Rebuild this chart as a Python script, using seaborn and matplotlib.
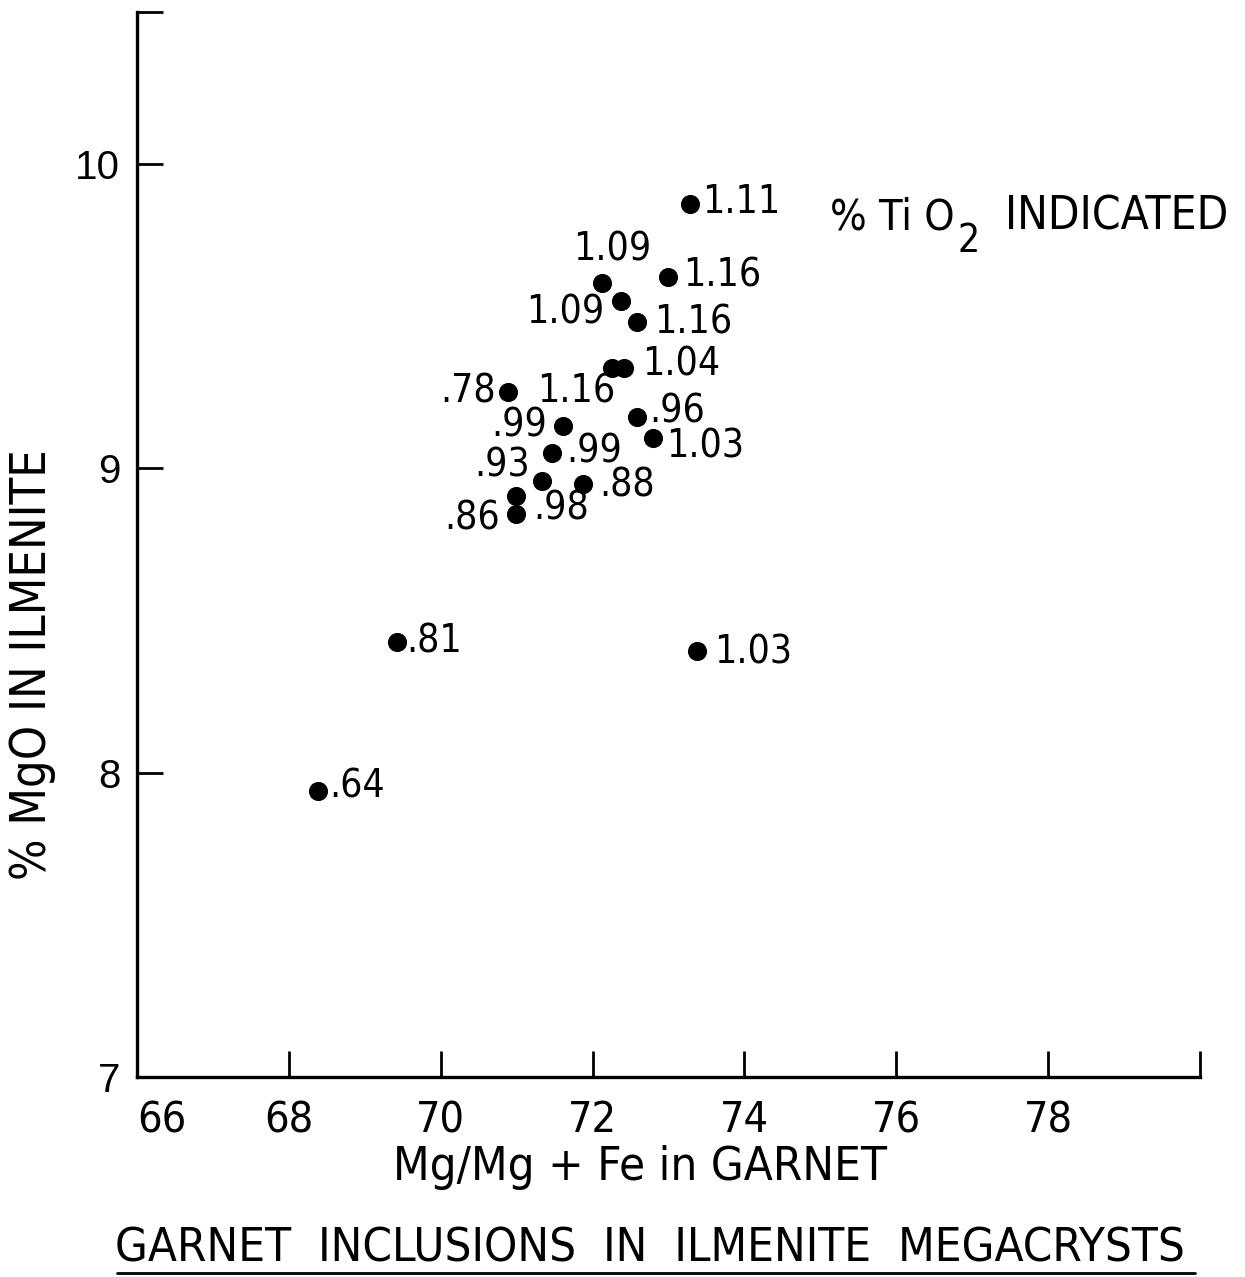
import matplotlib
matplotlib.use("Agg")
import matplotlib.pyplot as plt
from matplotlib.lines import Line2D
import seaborn as sns
import pandas as pd

# Garnet inclusions: Mg/(Mg+Fe) of garnet vs MgO of host ilmenite, labelled with TiO2
mg_number = [73.28, 72.13, 72.99, 72.38, 72.58, 72.26, 72.41, 70.88, 71.61, 72.58,
             72.80, 71.47, 71.34, 71.88, 70.99, 70.99, 69.42, 73.38, 68.38]
mgo_ilmenite = [9.87, 9.61, 9.63, 9.55, 9.48, 9.33, 9.33, 9.25, 9.14, 9.17,
                9.10, 9.05, 8.96, 8.95, 8.91, 8.85, 8.43, 8.40, 7.94]
tio2_labels = ["1.11", "1.09", "1.16", "1.09", "1.16", "1.16", "1.04", ".78", ".99", ".96",
               "1.03", ".99", ".93", ".88", ".86", ".98", ".81", "1.03", ".64"]

x_ticks = [66, 68, 70, 72, 74, 76, 78, 80]
x_tick_labels = ["66", "68", "70", "72", "74", "76", "78", ""]
y_ticks = [7, 8, 9, 10, 10.5]
y_tick_labels = ["7", "8", "9", "10", ""]

# label placement relative to each dot: (dx px, dy px, horizontal alignment)
label_offsets = [(12, 2, "left"), (10, 33, "center"), (15, 1, "left"), (-17, -11, "right"),
                 (18, 0, "left"), (-36, -23, "center"), (18, 4, "left"), (-12, 1, "right"),
                 (-16, 0, "right"), (13, 5, "left"), (13, -9, "left"), (14, 2, "left"),
                 (-13, 15, "right"), (16, -2, "left"), (-16, -23, "right"), (17, 6, "left"),
                 (10, 0, "left"), (17, -2, "left"), (12, 4, "left")]

df = pd.DataFrame({"mg": mg_number, "mgo": mgo_ilmenite, "tio2": tio2_labels})

sns.set_theme(style="white")
fam = ["DejaVu Sans"]
plt.rcParams["font.family"] = fam
plt.rcParams["text.color"] = "black"

cond = dict(family=fam, fontstretch="condensed", color="black")

DPI = 100
W, H = 1245, 1277
fig = plt.figure(figsize=(W / DPI, H / DPI), dpi=DPI)
ax = fig.add_axes([137 / W, 200 / H, 1063 / W, 1065 / H])

sns.scatterplot(data=df, x="mg", y="mgo", ax=ax, color="black", s=190,
                edgecolor="black", linewidth=0, legend=False, zorder=3)

px = 72 / DPI
for xv, yv, lab, (dx, dy, ha) in zip(df["mg"], df["mgo"], df["tio2"], label_offsets):
    ax.annotate(lab, (xv, yv), xytext=(dx * px, dy * px), textcoords="offset points",
                ha=ha, va="center", fontsize=28, **cond)

ax.set_xlim(66, 80)
ax.set_ylim(7, 10.5)
ax.set_xticks(x_ticks)
ax.set_xticklabels(x_tick_labels, fontsize=31, **cond)
ax.get_xticklabels()[0].set_horizontalalignment("left")
ax.set_yticks(y_ticks)
ax.set_yticklabels(y_tick_labels, fontsize=29, family=["Liberation Sans", "DejaVu Sans"],
                   color="black")
ax.tick_params(axis="both", direction="in", length=19, width=2.0, colors="black",
               bottom=True, left=True)
ax.tick_params(axis="x", pad=16)
ax.tick_params(axis="y", pad=12)
ax.set_xlabel("")
ax.set_ylabel("")

for side in ["top", "right"]:
    ax.spines[side].set_visible(False)
for side in ["left", "bottom"]:
    ax.spines[side].set_linewidth(2.4)
    ax.spines[side].set_color("black")

# "% TiO2 INDICATED" note with a large, dropped subscript
fig.text(830 / W, 1 - 230 / H, "% Ti O", fontsize=31, ha="left", va="baseline", **cond)
fig.text(958 / W, 1 - 252 / H, "2", fontsize=28, ha="left", va="baseline", **cond)
fig.text(1005 / W, 1 - 230 / H, "INDICATED", fontsize=33, ha="left", va="baseline", **cond)

fig.text(640 / W, 1 - 1168 / H, "Mg/Mg + Fe in GARNET", fontsize=34,
         ha="center", va="center", **cond)
fig.text(32 / W, 1 - 665 / H, "% MgO IN ILMENITE", fontsize=35, rotation=90,
         ha="center", va="center", **cond)
fig.text(650 / W, 1 - 1249 / H, "GARNET  INCLUSIONS  IN  ILMENITE  MEGACRYSTS",
         fontsize=34, ha="center", va="center", **cond)
fig.add_artist(Line2D([117 / W, 1195 / W], [1 - 1273 / H] * 2,
                      transform=fig.transFigure, color="black", linewidth=2.0))

fig.savefig("out.png", dpi=DPI, facecolor="white")
